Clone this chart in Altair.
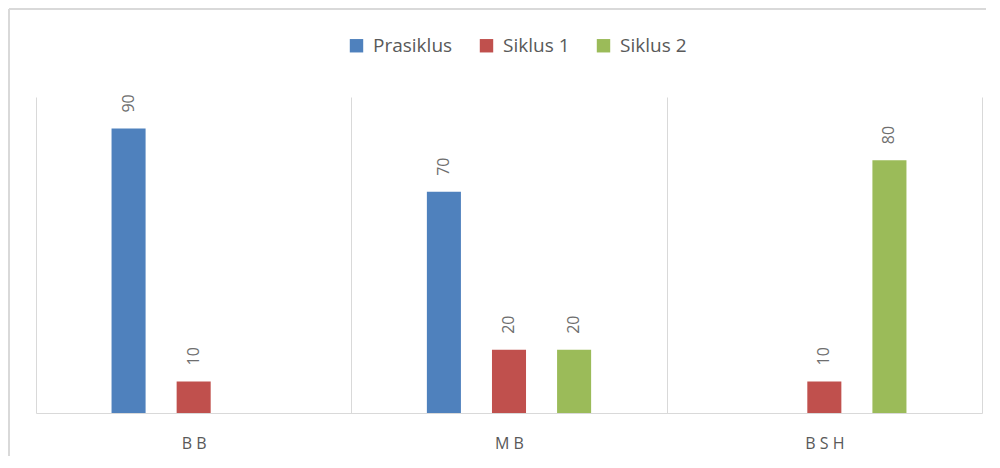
import altair as alt
import pandas as pd

categories = ["B B", "M B", "B S H"]
series = ["Prasiklus", "Siklus 1", "Siklus 2"]
prasiklus = [90, 70, None]
siklus1 = [10, 20, 10]
siklus2 = [None, 20, 80]
colors = ["#4F81BD", "#C0504D", "#9BBB59"]

rows = []
for s, vals in zip(series, [prasiklus, siklus1, siklus2]):
    for c, v in zip(categories, vals):
        if v is not None:
            rows.append({"kategori": c, "siklus": s, "nilai": v})
df = pd.DataFrame(rows)

W, H = 946, 316
FONT = "Open Sans"
BAND = W / 3
INNER = 0.477
GROUP = 65.1 * (3 - INNER)
OFF0 = (BAND - GROUP) / 2

x_enc = alt.X(
    "kategori:N",
    sort=categories,
    scale=alt.Scale(paddingInner=0, paddingOuter=0),
    axis=alt.Axis(
        title=None,
        labelAngle=0,
        tickBand="extent",
        grid=True,
        gridColor="#d9d9d9",
        gridWidth=1,
        domainColor="#d9d9d9",
        domainWidth=1,
        ticks=False,
        labelFont=FONT,
        labelFontSize=16,
        labelColor="#595959",
        labelPadding=22,
    ),
)
xo_enc = alt.XOffset(
    "siklus:N",
    sort=series,
    scale=alt.Scale(domain=series, paddingInner=INNER, paddingOuter=0,
                    range=[OFF0, OFF0 + GROUP]),
)
y_enc = alt.Y("nilai:Q", scale=alt.Scale(domain=[0, 100]), axis=None)

base = alt.Chart(df)

bars = base.mark_bar().encode(
    x=x_enc,
    xOffset=xo_enc,
    y=y_enc,
    color=alt.Color(
        "siklus:N",
        sort=series,
        scale=alt.Scale(domain=series, range=colors),
        legend=alt.Legend(
            title=None,
            orient="none",
            legendX=311,
            legendY=-61,
            direction="horizontal",
            symbolType="square",
            symbolSize=180,
            symbolStrokeWidth=0,
            labelFont=FONT,
            labelFontSize=19,
            labelColor="#595959",
            labelOffset=7,
            columnPadding=24,
        ),
    ),
)

labels = base.mark_text(
    angle=270,
    align="left",
    baseline="middle",
    dx=16,
    font=FONT,
    fontSize=16,
    color="#6e6e6e",
).encode(
    x=x_enc,
    xOffset=xo_enc,
    y=y_enc,
    text=alt.Text("nilai:Q"),
)

frame = alt.Data(values=[{"a": 1}])
border_top = alt.Chart(frame).mark_rule(color="#d9d9d9", strokeWidth=2).encode(
    x=alt.value(-27),
    x2=alt.value(W + 200),
    y=alt.value(-88),
)
border_left = alt.Chart(frame).mark_rule(color="#d9d9d9", strokeWidth=2).encode(
    x=alt.value(-27),
    y=alt.value(-88),
    y2=alt.value(H + 200),
)

chart = (
    alt.layer(border_top, border_left, bars, labels)
    .properties(
        width=W,
        height=H,
        padding={"left": 28, "top": 89, "right": 4, "bottom": 43},
        autosize=alt.AutoSizeParams(type="none"),
        background="white",
    )
    .configure_view(stroke=None)
)

chart.save("out.html", embed_options={"renderer": "svg", "actions": False})
